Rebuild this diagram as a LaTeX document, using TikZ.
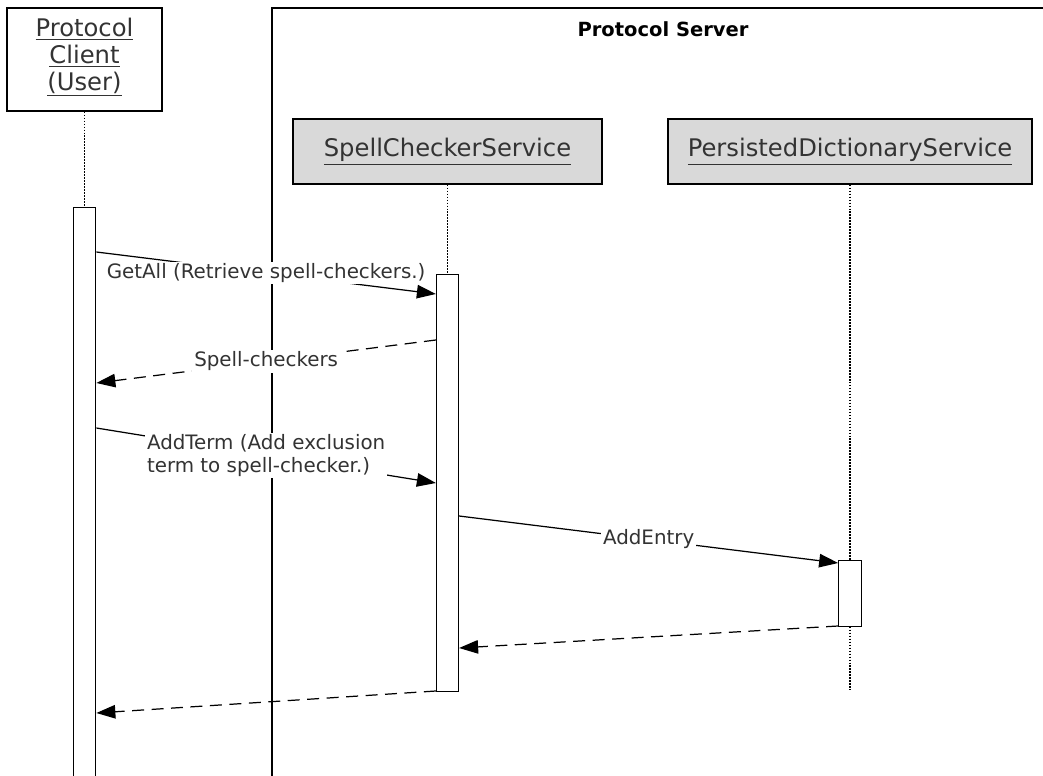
\documentclass[tikz,border=0pt]{standalone}
\usepackage{fontspec}
\setmainfont{DejaVu Sans}
\usetikzlibrary{arrows.meta}

\definecolor{boxgray}{gray}{0.85}
\definecolor{txt}{gray}{0.2}

\tikzset{
  actor/.style={draw, line width=0.7pt, text=txt, align=center, font=\fontsize{13.8}{15.2}\selectfont},
  service/.style={actor, fill=boxgray, minimum height=1.3cm},
  actbar/.style={draw, line width=0.7pt, fill=white, minimum width=0.45cm, anchor=north},
  lifeline/.style={line width=0.7pt, dash pattern=on 1pt off 0.7pt},
  msg/.style={line width=0.7pt, -{Triangle[length=0.38cm,width=0.27cm]}},
  ret/.style={msg, dash pattern=on 0.24cm off 0.15cm},
  lbl/.style={fill=white, text=txt, inner sep=1pt, font=\fontsize{11.3}{12.6}\selectfont}
}

\begin{document}
\begin{tikzpicture}[x=0.02cm, y=-0.02cm]
\useasboundingbox (0,0) rectangle (1043,776);

% server frame
\draw[line width=0.7pt] (272,776) -- (272,8) -- (1043,8);
\node[font=\bfseries\fontsize{11.1}{14}\selectfont] (srv) at (663,29) {Protocol Server};

% actors
\node[actor, minimum width=3.1cm, minimum height=2.06cm, text depth=6pt] (client) at (84.5,59.5)
  {\underline{Protocol}\\\underline{Client}\\\underline{(User)}};
\node[service, minimum width=6.18cm] (spell) at (447.5,151.5) {\underline{SpellCheckerService}};
\node[service, minimum width=7.28cm] (pers) at (850,151.5) {\underline{PersistedDictionaryService}};

% lifelines
\coordinate (cend) at (84.5,207);
\coordinate (send) at (447.5,274);
\coordinate (pend) at (850,690);
\draw[lifeline] (client) -- (cend);
\draw[lifeline] (spell) -- (send);
\draw[lifeline] (pers) -- (pend);

% activations
\node[actbar, minimum height=11.6cm] (cact) at (cend) {};
\node[actbar, minimum width=0.44cm, minimum height=8.34cm] (sact) at (send) {};
\node[actbar, minimum height=1.32cm] (pact) at (850,560) {};

% messages
\draw[msg] (cact.east |- 0,252) -- node[lbl] (getall) {GetAll (Retrieve spell-checkers.)} (sact.west |- 0,294);
\draw[ret] (sact.west |- 0,340) -- node[lbl] (checkers) {Spell-checkers} (cact.east |- 0,383);
\draw[msg] (cact.east |- 0,428) -- node[lbl, align=left] (addterm) {AddTerm (Add exclusion\\term to spell-checker.)} (sact.west |- 0,483);
\draw[msg] (sact.east |- 0,516) -- node[lbl] (addentry) {AddEntry} (pact.west |- 0,563);
\draw[ret] (pact.west |- 0,626) -- (sact.east |- 0,648);
\draw[ret] (sact.west |- 0,691) -- (cact.east |- 0,713);
\end{tikzpicture}
\end{document}
